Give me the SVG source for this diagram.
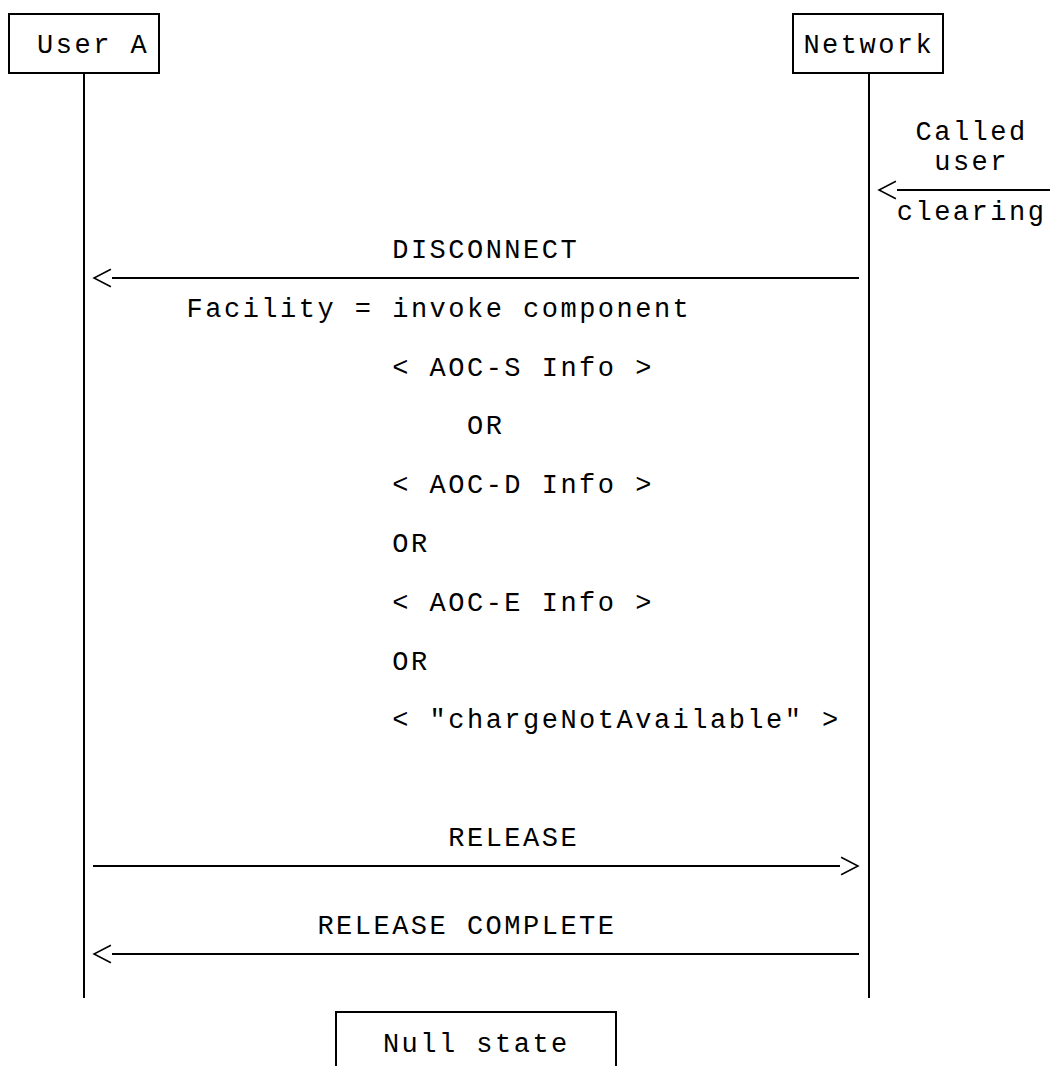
<svg xmlns="http://www.w3.org/2000/svg" width="1050" height="1066" viewBox="0 0 1050 1066">
<style>
  text { font-family: "Liberation Mono", "Courier New", monospace; font-size: 27px; letter-spacing: 2.49px; fill: #000; }
  .box { fill: none; stroke: #000; stroke-width: 2; }
  .life { stroke: #000; stroke-width: 2; fill: none; }
  .msg { stroke: #000; stroke-width: 2; fill: none; }
</style>
<defs>
  <marker id="head" markerUnits="userSpaceOnUse" markerWidth="24" markerHeight="24" refX="0" refY="0" viewBox="-2 -10 22 20" orient="auto" overflow="visible">
    <path d="M1,-8 L16.5,0 L1,8" fill="none" stroke="#000" stroke-width="1.4"/>
  </marker>
</defs>
<rect width="1050" height="1066" fill="#fff"/>

<g id="userA">
  <rect class="box" x="9" y="14" width="150" height="59"/>
  <text x="37.1" y="52.8">User A</text>
</g>

<g id="network">
  <rect class="box" x="793" y="14" width="150" height="59"/>
  <text x="803.4" y="52.8">Network</text>
</g>

<g id="nullState">
  <path class="box" d="M336,1067 L336,1012 L616,1012 L616,1067"/>
  <text x="382.9" y="1051.5">Null state</text>
</g>

<g id="connectors">
  <line class="life" x1="84" y1="73" x2="84" y2="998"/>
  <line class="life" x1="869" y1="73" x2="869" y2="998"/>

  <path class="msg" d="M1052,190 L897,190" marker-end="url(#head)"/>
  <path class="msg" d="M859,278 L112,278" marker-end="url(#head)"/>
  <path class="msg" d="M93,866 L840,866" marker-end="url(#head)"/>
  <path class="msg" d="M859,954 L112,954" marker-end="url(#head)"/>
</g>

<g id="labels">
  <text x="915.5" y="139.5">Called</text>
  <text x="934.2" y="169.5">user</text>
  <text x="896.8" y="220">clearing</text>

  <text x="392.2" y="258">DISCONNECT</text>
  <text x="186.6" y="316.5">Facility = invoke component</text>
  <text x="392.2" y="375.5">&lt; AOC-S Info &gt;</text>
  <text x="467" y="434.3">OR</text>
  <text x="392.2" y="493.2">&lt; AOC-D Info &gt;</text>
  <text x="392.2" y="552">OR</text>
  <text x="392.2" y="610.8">&lt; AOC-E Info &gt;</text>
  <text x="392.2" y="669.6">OR</text>
  <text x="392.2" y="728.4">&lt; "chargeNotAvailable" &gt;</text>

  <text x="448.3" y="846">RELEASE</text>
  <text x="317.4" y="934">RELEASE COMPLETE</text>
</g>
</svg>
